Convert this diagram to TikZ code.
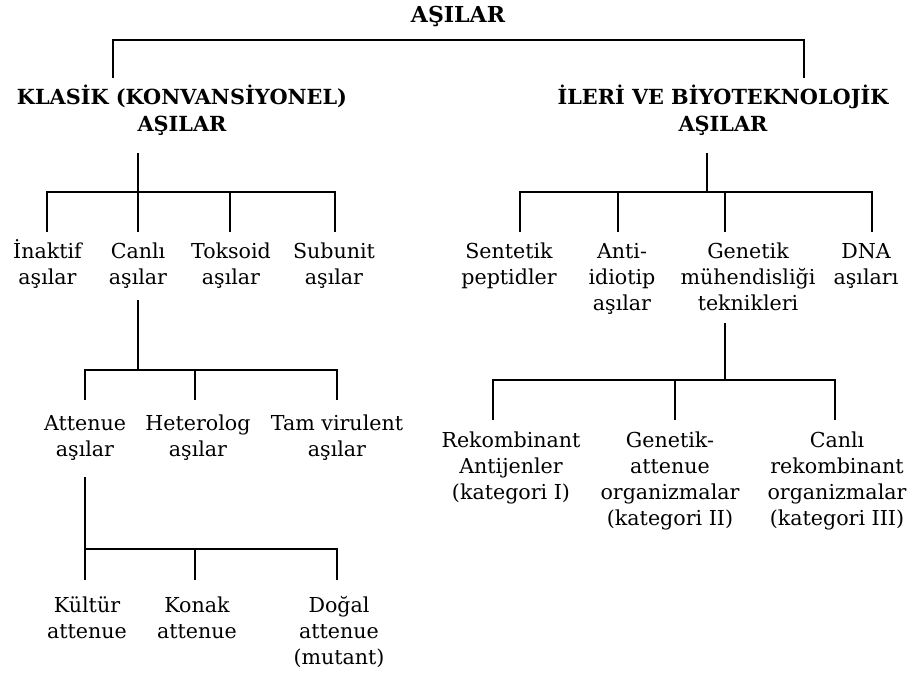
\documentclass[tikz,border=0pt]{standalone}
\usepackage{fontspec}
\setmainfont{DejaVu Serif}
\newcommand\ml[1]{\begin{tabular}[t]{@{}c@{}}#1\end{tabular}}
\tikzset{
  ln/.style={line width=2pt, line cap=butt},
  lbl/.style={inner sep=0pt, anchor=base, font=\fontsize{20.6}{26}\selectfont},
  hd/.style={inner sep=0pt, anchor=base, font=\fontsize{20.8}{27}\selectfont\bfseries},
}
\begin{document}
\begin{tikzpicture}[x=1pt,y=-1pt]
\useasboundingbox (0,0) rectangle (910,673);
\fill[white] (0,0) rectangle (910,673);

% headings
\node[hd, font=\fontsize{22}{27}\selectfont\bfseries] (root) at (458,22) {AŞILAR};
\node[hd] (kl) at (182,104) {\ml{KLASİK (KONVANSİYONEL)\\AŞILAR}};
\node[hd] (il) at (723,104) {\ml{İLERİ VE BİYOTEKNOLOJİK\\AŞILAR}};

% row 1
\node[lbl] (inaktif) at (47.5,258) {\ml{İnaktif\\aşılar}};
\node[lbl] (canli) at (138,258) {\ml{Canlı\\aşılar}};
\node[lbl] (toksoid) at (231,258) {\ml{Toksoid\\aşılar}};
\node[lbl] (subunit) at (334,258) {\ml{Subunit\\aşılar}};
\node[lbl] (sentetik) at (509,258) {\ml{Sentetik\\peptidler}};
\node[lbl] (anti) at (622,258) {\ml{Anti-\\idiotip\\aşılar}};
\node[lbl] (genetik) at (748,258) {\ml{Genetik\\mühendisliği\\teknikleri}};
\node[lbl] (dna) at (866,258) {\ml{DNA\\aşıları}};

% row 2
\node[lbl] (attenue) at (85,430) {\ml{Attenue\\aşılar}};
\node[lbl] (heterolog) at (198,430) {\ml{Heterolog\\aşılar}};
\node[lbl] (tamvir) at (337,430) {\ml{Tam virulent\\aşılar}};

% row 3
\node[lbl] (kultur) at (87,612) {\ml{Kültür\\attenue}};
\node[lbl] (konak) at (197,612) {\ml{Konak\\attenue}};
\node[lbl] (dogal) at (339,612) {\ml{Doğal\\attenue\\(mutant)}};

% right bottom
\node[lbl] (rekomb) at (511,447) {\ml{Rekombinant\\Antijenler\\(kategori I)}};
\node[lbl] (genatt) at (670,447) {\ml{Genetik-\\attenue\\organizmalar\\(kategori II)}};
\node[lbl] (canlirek) at (837,447) {\ml{Canlı\\rekombinant\\organizmalar\\(kategori III)}};

% connector coordinates
\coordinate (klT) at (113,78);
\coordinate (ilT) at (804,78);
\coordinate (topbar) at (455,40);

\coordinate (klB) at (138,153);
\coordinate (klbar) at (138,192);
\coordinate (ilB) at (707,153);
\coordinate (ilbar) at (707,192);

\coordinate (canliB) at (138,300);
\coordinate (canlibar) at (138,370);
\coordinate (genB) at (725,323);
\coordinate (genbar) at (725,380);
\coordinate (attB) at (85,477);
\coordinate (attbar) at (85,549);

% top bracket
\draw[ln] (klT) |- (topbar) -| (ilT);

% classic
\draw[ln] (klB) -- (klbar);
\draw[ln] (47,232) |- (klbar) -| (335,232);
\draw[ln] (klbar) -- (138,232);
\draw[ln] (230,192) -- (230,232);

% advanced
\draw[ln] (ilB) -- (ilbar);
\draw[ln] (520,232) |- (ilbar) -| (872,232);
\draw[ln] (618,192) -- (618,232);
\draw[ln] (725,192) -- (725,232);

% canli
\draw[ln] (canliB) -- (canlibar);
\draw[ln] (85,400) |- (canlibar) -| (337,400);
\draw[ln] (195,370) -- (195,400);

% genetik
\draw[ln] (genB) -- (genbar);
\draw[ln] (493,420) |- (genbar) -| (835,420);
\draw[ln] (675,380) -- (675,420);

% attenue
\draw[ln] (attB) -- (attbar);
\draw[ln] (85,580) -- (attbar) -- (337,549) -- (337,580);
\draw[ln] (195,549) -- (195,580);
\end{tikzpicture}
\end{document}
